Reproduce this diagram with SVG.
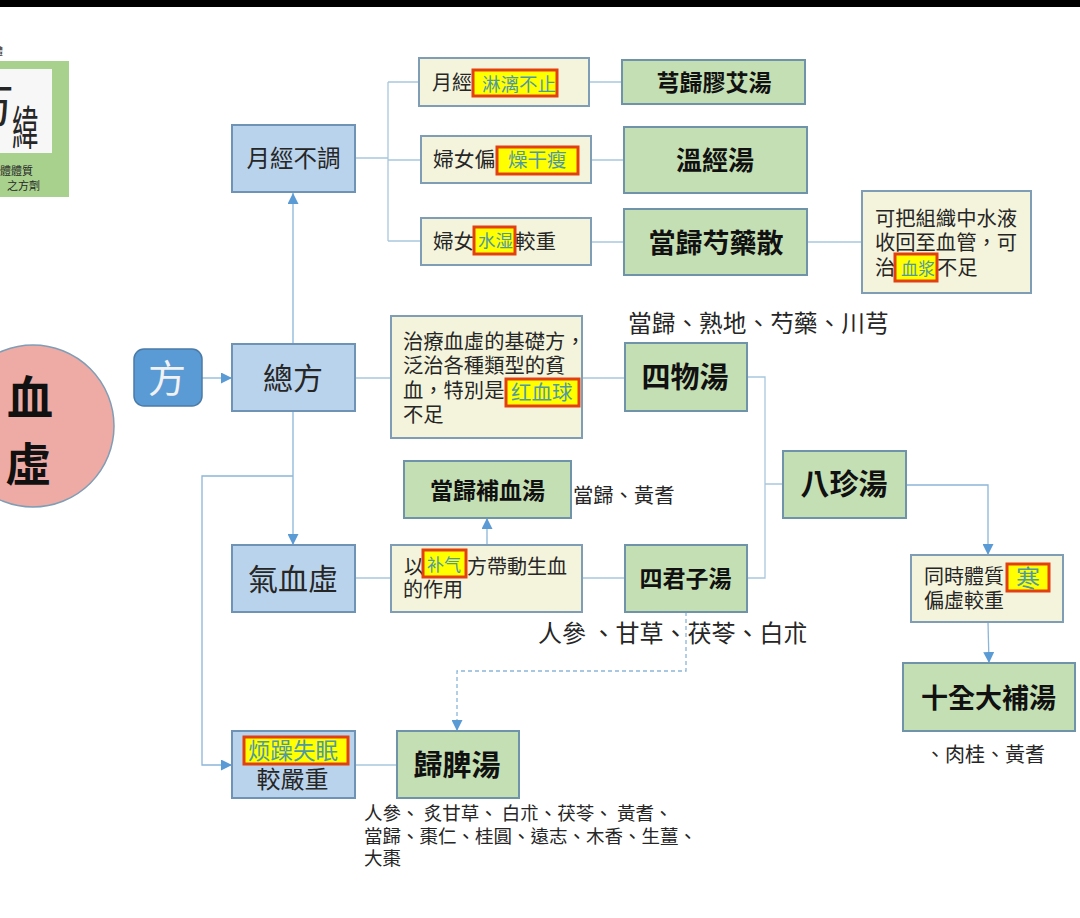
<svg xmlns="http://www.w3.org/2000/svg" width="1080" height="918" viewBox="0 0 1080 918">
<defs>
<marker id="arrow" markerUnits="userSpaceOnUse" markerWidth="12" markerHeight="11" refX="11" refY="5.5" orient="auto"><path d="M0 0L11 5.5L0 11Z" fill="#5b9bd5"/></marker>
</defs>
<style>
text{font-family:"Noto Sans CJK TC","Noto Sans CJK SC",sans-serif;fill:#262626}
.blue{fill:#bad3ec;stroke:#6f93b4;stroke-width:2}
.cream{fill:#f4f4dc;stroke:#7f9db5;stroke-width:2}
.green{fill:#c5dfb4;stroke:#6f93a8;stroke-width:2}
.hl{fill:#ffff00;stroke:#e2400f;stroke-width:3}
.hlt{font-family:"Noto Sans CJK SC","Noto Sans CJK TC",sans-serif;fill:#4f9aa0}
.t{font-weight:700;fill:#111;text-anchor:middle}
.c{text-anchor:middle}
.l{fill:none;stroke:#a9c7de;stroke-width:1.3}
.a{fill:none;stroke:#8cb6d8;stroke-width:1.3;marker-end:url(#arrow)}
</style>
<rect width="1080" height="918" fill="#fff"/>
<rect width="1080" height="7" fill="#000"/>
<g id="logo">
<text x="-7" y="55" font-size="10">體</text>
<rect x="-30" y="61" width="99" height="136" fill="#a9d18e"/>
<rect x="-30" y="69" width="82" height="84" fill="#f7f7f7"/>
<text x="-32" y="122" font-size="46" fill="#111">万</text>
<text transform="translate(12 145) scale(0.8 1.4)" font-size="33" fill="#111">緯</text>
<text x="0" y="175" font-size="11" fill="#2c4a1e">體體質</text>
<text x="7" y="190" font-size="11" fill="#2c4a1e">之方劑</text>
</g>
<g id="connectors">
<path class="l" d="M355 158H388M388 82V241M388 82H419M388 160H421M388 241H421"/>
<path class="l" d="M589 82H622M591 160H624M591 242H624M807 242H862"/>
<path class="l" d="M355 378H391M582 378H625M355 578H391M582 578H625M348 765H397"/>
<path class="l" d="M747 377H765V578H747M765 484H783"/>
<path class="a" d="M293 344V193"/>
<path class="a" d="M202 378H232"/>
<path class="a" d="M293 411V545"/>
<path class="a" d="M293 476H202V765H232"/>
<path class="a" d="M487 545V518"/>
<path class="a" d="M906 485H988V555"/>
<path class="a" d="M988 622L989 663"/>
<path class="a" stroke-dasharray="4 3" d="M686 612V671H457V731"/>
</g>
<g id="xuexu">
<circle cx="33" cy="426" r="81" fill="#eeaba5" stroke="#7f9db5" stroke-width="1.5"/>
<text class="t" x="30" y="414" font-size="46">血</text>
<text class="t" x="28" y="481" font-size="46">虛</text>
</g>
<g id="fang">
<rect x="134" y="349" width="68" height="57" rx="10" fill="#5b9bd5" stroke="#4a7ba6" stroke-width="1.5"/>
<text class="c" x="167" y="392" font-size="38" style="fill:#f2f2f2">方</text>
</g>
<g id="n-yuejing">
<rect class="blue" x="232" y="125" width="123" height="67"/>
<text class="c" x="293.500" y="167" font-size="23.500">月經不調</text>
</g>
<g id="n-zongfang">
<rect class="blue" x="232" y="344" width="123" height="67"/>
<text class="c" x="293" y="389" font-size="30">總方</text>
</g>
<g id="n-qixue">
<rect class="blue" x="232" y="545" width="123" height="67"/>
<text class="c" x="293" y="590" font-size="30">氣血虛</text>
</g>
<g id="n-fanzao">
<rect class="blue" x="232" y="731" width="123" height="67"/>
<rect class="hl" x="244" y="737" width="104" height="27"/>
<text class="hlt c" x="293" y="759" font-size="22.500">烦躁失眠</text>
<text class="c" x="292.500" y="788" font-size="24">較嚴重</text>
</g>
<g id="d1">
<rect class="cream" x="419" y="58" width="170" height="48"/>
<text x="432" y="90" font-size="20">月經</text>
<rect class="hl" x="473" y="70" width="84" height="26"/>
<text class="hlt" x="482" y="91" font-size="18.500">淋漓不止</text>
</g>
<g id="d2">
<rect class="cream" x="421" y="136" width="170" height="47"/>
<text x="433" y="167" font-size="20.700">婦女偏</text>
<rect class="hl" x="497" y="147" width="81" height="27"/>
<text class="hlt" x="508" y="167" font-size="19.500">燥干瘦</text>
</g>
<g id="d3">
<rect class="cream" x="421" y="218" width="170" height="47"/>
<text x="433" y="249" font-size="20.500">婦女</text>
<rect class="hl" x="474" y="227" width="41" height="27"/>
<text class="hlt" x="478" y="247" font-size="17.500">水湿</text>
<text x="515" y="249" font-size="20.500">較重</text>
</g>
<g id="f1">
<rect class="green" x="622" y="60" width="183" height="44"/>
<text class="t" x="714" y="91" font-size="23">芎歸膠艾湯</text>
</g>
<g id="f2">
<rect class="green" x="624" y="127" width="183" height="66"/>
<text class="t" x="715" y="170" font-size="26">溫經湯</text>
</g>
<g id="f3">
<rect class="green" x="624" y="209" width="183" height="66"/>
<text class="t" x="716" y="253" font-size="27">當歸芍藥散</text>
</g>
<g id="note">
<rect class="cream" x="862" y="191" width="169" height="102"/>
<text x="875" y="226" font-size="20.300">可把組織中水液</text>
<text x="875" y="250" font-size="20.300">收回至血管，可</text>
<text x="875" y="275" font-size="20.300">治</text>
<rect class="hl" x="895" y="254" width="42" height="27"/>
<text class="hlt" x="901" y="275" font-size="17">血浆</text>
<text x="937" y="275" font-size="20.300">不足</text>
</g>
<g id="n-jichu">
<rect class="cream" x="391" y="316" width="191" height="122"/>
<text x="403" y="349" font-size="20.300">治療血虛的基礎方，</text>
<text x="403" y="373" font-size="20.300">泛治各種類型的貧</text>
<text x="403" y="398" font-size="20.300">血，特別是</text>
<rect class="hl" x="506" y="379" width="73" height="27"/>
<text class="hlt" x="511" y="400" font-size="20.500">红血球</text>
<text x="403" y="422" font-size="20.300">不足</text>
</g>
<g id="n-siwu">
<rect class="green" x="625" y="343" width="122" height="68"/>
<text class="t" x="685" y="388" font-size="29">四物湯</text>
</g>
<g id="n-danggui">
<rect class="green" x="404" y="461" width="167" height="57"/>
<text class="t" x="487.500" y="499" font-size="23">當歸補血湯</text>
</g>
<g id="n-buqi">
<rect class="cream" x="391" y="545" width="191" height="67"/>
<text x="404" y="574" font-size="20">以</text>
<rect class="hl" x="423" y="550" width="43" height="27"/>
<text class="hlt" x="427" y="571" font-size="17">补气</text>
<text x="467" y="574" font-size="20">方帶動生血</text>
<text x="403" y="597" font-size="20">的作用</text>
</g>
<g id="n-sijun">
<rect class="green" x="625" y="545" width="122" height="67"/>
<text class="t" x="685.500" y="587" font-size="23">四君子湯</text>
</g>
<g id="n-bazhen">
<rect class="green" x="783" y="451" width="123" height="67"/>
<text class="t" x="844" y="495" font-size="29">八珍湯</text>
</g>
<g id="n-han">
<rect class="cream" x="911" y="555" width="152" height="67"/>
<text x="924" y="584" font-size="20">同時體質</text>
<rect class="hl" x="1007" y="564" width="42" height="27"/>
<text class="hlt c" x="1028" y="587" font-size="24">寒</text>
<text x="924" y="608" font-size="20">偏虛較重</text>
</g>
<g id="n-shiquan">
<rect class="green" x="903" y="663" width="172" height="68"/>
<text class="t" x="988.500" y="708" font-size="27">十全大補湯</text>
</g>
<g id="n-guipi">
<rect class="green" x="397" y="731" width="122" height="67"/>
<text class="t" x="457" y="776" font-size="29">歸脾湯</text>
</g>
<g id="labels">
<text x="628" y="332" font-size="23.700">當歸、熟地、芍藥、川芎</text>
<text x="538" y="642" font-size="24">人參 、甘草、茯苓、白朮</text>
<text x="573" y="503" font-size="20.300">當歸、黃耆</text>
<text x="925" y="762" font-size="20">、肉桂、黃耆</text>
<text x="364" y="820" font-size="18.500">人參、 炙甘草、 白朮、茯苓、 黃耆、</text>
<text x="364" y="843" font-size="18.500">當歸、棗仁、桂圓、遠志、木香、生薑、</text>
<text x="364" y="865" font-size="18.500">大棗</text>
</g>
</svg>
